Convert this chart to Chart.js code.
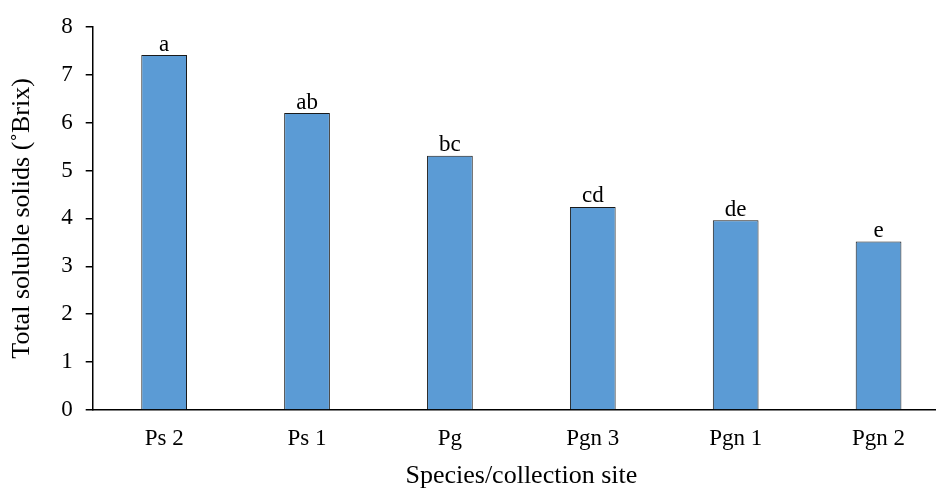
<!DOCTYPE html>
<html>
<head>
<meta charset="utf-8">
<script src="https://cdn.jsdelivr.net/npm/chart.js@4.4.1/dist/chart.umd.min.js"></script>
<style>
  html, body { margin: 0; padding: 0; background: #fff; overflow: hidden; }
  #wrap { width: 950px; height: 489px; }
</style>
</head>
<body>
<div id="wrap"><canvas id="myChart" width="950" height="489"></canvas></div>
<script>
// chart data
const categories = ['Ps 2', 'Ps 1', 'Pg', 'Pgn 3', 'Pgn 1', 'Pgn 2'];
const brixValues = [7.41, 6.2, 5.31, 4.24, 3.96, 3.52];
const groupLetters = ['a', 'ab', 'bc', 'cd', 'de', 'e'];
const yTicks = [0, 1, 2, 3, 4, 5, 6, 7, 8];

const serif = "'Liberation Serif', 'Times New Roman', serif";

// writes the significance letters above each bar
const letterPlugin = {
    id: 'letters',
    afterDatasetsDraw(chart) {
        const ctx = chart.ctx;
        const meta = chart.getDatasetMeta(0);
        ctx.save();
        ctx.font = '23px ' + serif;
        ctx.fillStyle = '#000';
        ctx.textAlign = 'center';
        ctx.textBaseline = 'bottom';
        meta.data.forEach(function(bar, i) {
            ctx.fillText(groupLetters[i], bar.x, bar.y + 1);
        });
        ctx.restore();
    }
};

const ctx = document.getElementById('myChart').getContext('2d');
new Chart(ctx, {
    type: 'bar',
    data: {
        labels: categories,
        datasets: [{
            data: brixValues,
            backgroundColor: '#5B9BD5',
            borderColor: '#1a1a1a',
            borderWidth: 1,
            categoryPercentage: 1,
            barPercentage: 0.32
        }]
    },
    options: {
        responsive: false,
        animation: false,
        devicePixelRatio: 1,
        layout: { padding: { top: 20, left: 4, right: 0, bottom: 0 } },
        plugins: {
            legend: { display: false },
            tooltip: { enabled: false }
        },
        scales: {
            x: {
                grid: { display: false },
                border: { display: true, color: '#000', width: 1.5 },
                ticks: { color: '#000', font: { family: serif, size: 23, lineHeight: 1 }, padding: 9 },
                title: {
                    display: true,
                    text: 'Species/collection site',
                    color: '#000',
                    font: { family: serif, size: 26, lineHeight: 1 },
                    padding: { top: 4, bottom: 0 }
                }
            },
            y: {
                min: 0,
                max: 8,
                afterBuildTicks: function(axis) {
                    axis.ticks = yTicks.map(function(v) { return { value: v }; });
                },
                grid: { drawOnChartArea: false, color: '#000', tickLength: 7, lineWidth: 1.5 },
                border: { display: true, color: '#000', width: 1.5 },
                ticks: { color: '#000', font: { family: serif, size: 23 }, padding: 13 },
                title: {
                    display: true,
                    text: 'Total soluble solids (˚Brix)',
                    color: '#000',
                    font: { family: serif, size: 26 },
                    padding: { top: 3, bottom: 10 }
                }
            }
        }
    },
    plugins: [letterPlugin]
});
</script>
</body>
</html>
